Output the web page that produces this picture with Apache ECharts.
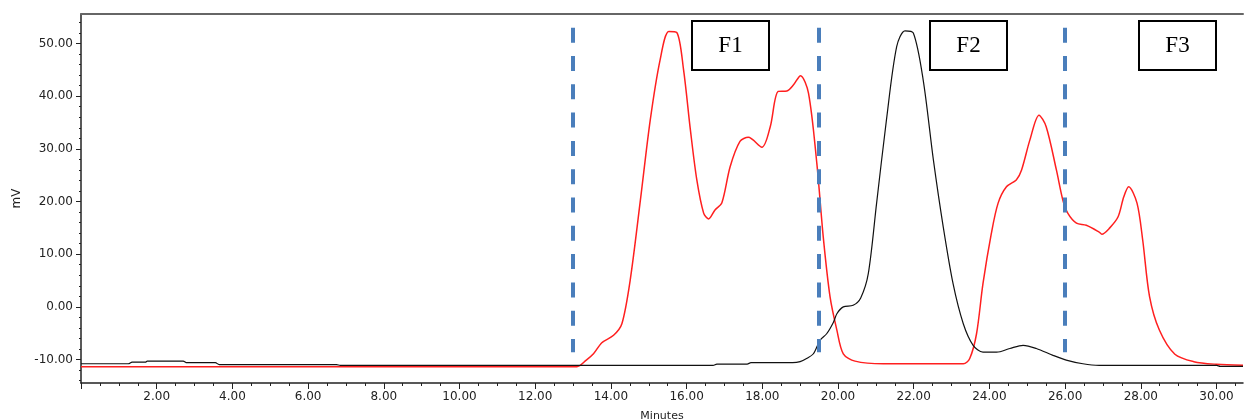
<!DOCTYPE html>
<html>
<head>
<meta charset="utf-8">
<title>Chromatogram</title>
<script src="https://cdn.jsdelivr.net/npm/echarts@6/dist/echarts.min.js"></script>
<style>
  html, body { margin: 0; padding: 0; background: #fff; }
  #chart { width: 1244px; height: 420px; }
</style>
</head>
<body>
<div id="chart"></div>
<script>
// Retention time (minutes) vs detector signal (mV), one trace per sample
const redTrace = [
  [0, -11.35], [6.8, -11.35], [13.1, -11.35], [13.35, -10.1], [13.54, -8.9], [13.76, -6.8],
  [14.07, -5.4], [14.29, -3.2], [14.51, 5.1], [14.78, 20.3], [15.04, 35.5], [15.3, 46.9],
  [15.53, 52.3], [15.74, 52.1], [15.92, 45.0], [16.1, 33.6], [16.27, 24.1], [16.45, 17.8],
  [16.58, 16.7], [16.75, 18.4], [16.93, 19.7], [17.15, 26.6], [17.41, 31.4], [17.63, 32.2],
  [17.99, 30.3], [18.21, 34.2], [18.42, 40.9], [18.65, 41.0], [18.82, 42.1], [19.01, 43.9],
  [19.22, 40.6], [19.44, 27.3], [19.61, 13.3], [19.79, 1.9], [19.97, -4.4], [20.14, -8.9],
  [20.45, -10.3], [21.2, -10.8], [23.31, -10.8], [23.48, -9.8], [23.66, -5.1], [23.83, 4.4],
  [24.05, 13.9], [24.23, 19.7], [24.45, 22.8], [24.71, 24.1], [24.85, 26.0], [25.07, 31.7],
  [25.31, 36.4], [25.5, 34.2], [25.77, 26.0], [25.94, 20.3], [26.07, 17.8], [26.3, 15.9],
  [26.56, 15.5], [26.9, 14.2], [26.97, 13.8], [27.18, 15.0], [27.4, 17.1], [27.55, 20.9],
  [27.68, 22.8], [27.9, 19.7], [28.05, 12.7], [28.23, 2.0], [28.49, -4.4], [28.9, -9.0],
  [29.4, -10.4], [30.0, -10.9], [30.7, -11.1]
];

const blackTrace = [
  [0, -10.8], [1.25, -10.8], [1.35, -10.5], [1.7, -10.5], [1.75, -10.3], [2.7, -10.3],
  [2.8, -10.6], [3.55, -10.6], [3.65, -10.95], [6.75, -10.95], [6.85, -11.1], [16.7, -11.1],
  [16.8, -10.85], [17.6, -10.85], [17.7, -10.6], [18.8, -10.6], [19.0, -10.4], [19.17, -9.8],
  [19.35, -8.9], [19.53, -6.3], [19.7, -5.1], [19.88, -2.9], [19.97, -1.3], [20.14, 0.0],
  [20.4, 0.3], [20.6, 1.7], [20.8, 6.3], [21.02, 19.7], [21.28, 35.5], [21.55, 49.4],
  [21.77, 52.4], [21.99, 52.0], [22.25, 43.1], [22.52, 27.9], [22.78, 15.2], [23.04, 4.4],
  [23.31, -3.2], [23.57, -7.3], [23.83, -8.6], [24.19, -8.6], [24.54, -7.9], [24.89, -7.3],
  [25.24, -7.9], [25.68, -9.2], [26.03, -10.1], [26.47, -10.8], [26.9, -11.1], [30.0, -11.1],
  [30.1, -11.3], [30.7, -11.3]
];

// Fraction cut points (minutes) and fraction labels
const fractionCuts = [13.0, 19.5, 26.0];
const fractionNames = ['F1', 'F2', 'F3'];
const fractionCenters = [17.15, 23.45, 28.96];
const fractionLabelLevel = 49.6;
const cutTop = 53.0;
const cutBottom = -8.6;

// Axis ranges and ticks
const xRange = [0, 30.7];
const yRange = [-14.45, 55.6];
const xTickLabels = [2, 4, 6, 8, 10, 12, 14, 16, 18, 20, 22, 24, 26, 28, 30];
const xMajorTicks = [0, 2, 4, 6, 8, 10, 12, 14, 16, 18, 20, 22, 24, 26, 28, 30];
const xMinorTicks = [0.5, 1, 1.5, 2.5, 3, 3.5, 4.5, 5, 5.5, 6.5, 7, 7.5, 8.5, 9, 9.5,
  10.5, 11, 11.5, 12.5, 13, 13.5, 14.5, 15, 15.5, 16.5, 17, 17.5, 18.5, 19, 19.5,
  20.5, 21, 21.5, 22.5, 23, 23.5, 24.5, 25, 25.5, 26.5, 27, 27.5, 28.5, 29, 29.5, 30.5];
const yTickLabels = [-10, 0, 10, 20, 30, 40, 50];
const yMinorTicks = [-14, -12, -8, -6, -4, -2, 2, 4, 6, 8, 12, 14, 16, 18, 22, 24, 26, 28,
  32, 34, 36, 38, 42, 44, 46, 48, 52, 54];

const axisColor = '#222';
const labelFont = { fontFamily: 'DejaVu Sans', fontSize: 12, color: '#222' };

const chart = echarts.init(document.getElementById('chart'), null, { renderer: 'canvas' });

chart.setOption({
  animation: false,
  backgroundColor: '#fff',
  grid: { left: 81, right: 1, top: 14, bottom: 37, containLabel: false, outerBoundsMode: 'none' },
  xAxis: [
    {
      type: 'value', min: xRange[0], max: xRange[1], position: 'bottom',
      name: 'Minutes', nameLocation: 'middle', nameGap: 28,
      nameTextStyle: { fontFamily: 'DejaVu Sans', fontSize: 11, color: '#222' },
      axisLine: { show: true, onZero: false, lineStyle: { color: axisColor, width: 1.5 } },
      axisTick: { show: true, customValues: xMajorTicks, length: 6, lineStyle: { color: axisColor, width: 1 } },
      axisLabel: Object.assign({ customValues: xTickLabels, margin: 8, formatter: v => v.toFixed(2) }, labelFont),
      splitLine: { show: false }
    },
    {
      type: 'value', min: xRange[0], max: xRange[1], position: 'bottom',
      axisLine: { show: false, onZero: false },
      axisTick: { show: true, customValues: xMinorTicks, length: 3, lineStyle: { color: axisColor, width: 1 } },
      axisLabel: { show: false },
      splitLine: { show: false }
    },
    {
      type: 'value', min: xRange[0], max: xRange[1], position: 'top',
      axisLine: { show: true, onZero: false, lineStyle: { color: '#666', width: 2 } },
      axisTick: { show: false }, axisLabel: { show: false }, splitLine: { show: false }
    }
  ],
  yAxis: [
    {
      type: 'value', min: yRange[0], max: yRange[1], position: 'left',
      name: 'mV', nameLocation: 'middle', nameGap: 58,
      nameTextStyle: { fontFamily: 'DejaVu Sans', fontSize: 12, color: '#222' },
      axisLine: { show: true, onZero: false, lineStyle: { color: axisColor, width: 1.5 } },
      axisTick: { show: true, customValues: yTickLabels, length: 5, lineStyle: { color: axisColor, width: 1 } },
      axisLabel: Object.assign({ customValues: yTickLabels, margin: 8, formatter: v => v.toFixed(2) }, labelFont),
      splitLine: { show: false }
    },
    {
      type: 'value', min: yRange[0], max: yRange[1], position: 'left',
      axisLine: { show: false, onZero: false },
      axisTick: { show: true, customValues: yMinorTicks, length: 2, lineStyle: { color: axisColor, width: 1 } },
      axisLabel: { show: false },
      splitLine: { show: false }
    }
  ],
  series: [
    {
      name: 'red', type: 'line', data: redTrace, showSymbol: false, smooth: 0.3,
      xAxisIndex: 0, yAxisIndex: 0, z: 3, silent: true,
      lineStyle: { color: '#ff1f1f', width: 1.5 }
    },
    {
      name: 'black', type: 'line', data: blackTrace, showSymbol: false, smooth: 0.3,
      xAxisIndex: 0, yAxisIndex: 0, z: 4, silent: true,
      lineStyle: { color: '#111', width: 1.2 }
    },
    {
      name: 'cuts', type: 'line', data: [], xAxisIndex: 0, yAxisIndex: 0, z: 5,
      markLine: {
        silent: true, symbol: ['none', 'none'], animation: false,
        label: { show: false },
        lineStyle: { color: '#4a7ebb', width: 4, type: [15, 13.3], cap: 'butt' },
        data: fractionCuts.map(t => [{ coord: [t, cutTop] }, { coord: [t, cutBottom] }])
      }
    }
  ]
});

// Boxed fraction labels, placed through the axis scales and snapped to whole pixels
const boxW = 77, boxH = 49;
chart.setOption({
  graphic: fractionNames.map((name, i) => {
    const p = chart.convertToPixel({ xAxisIndex: 0, yAxisIndex: 0 }, [fractionCenters[i], fractionLabelLevel]);
    const left = Math.round(p[0] - boxW / 2);
    const top = Math.round(p[1] - boxH / 2);
    return {
      type: 'group', z: 100, silent: true,
      children: [
        {
          type: 'rect', shape: { x: left, y: top, width: boxW, height: boxH },
          style: { fill: '#fff', stroke: '#000', lineWidth: 2 }
        },
        {
          type: 'text', x: left + boxW / 2, y: top + boxH / 2,
          style: {
            text: name, fill: '#000', font: '23px "Liberation Serif"',
            align: 'center', verticalAlign: 'middle'
          }
        }
      ]
    };
  })
});
</script>
</body>
</html>
